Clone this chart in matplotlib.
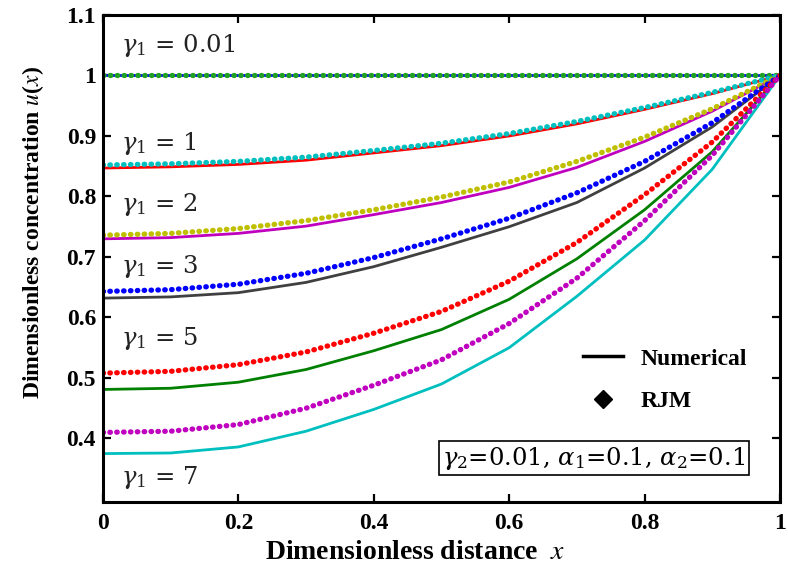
import numpy as np
import matplotlib
matplotlib.use('Agg')
import matplotlib.pyplot as plt
from matplotlib.lines import Line2D

plt.rcParams['font.family'] = ['Liberation Serif', 'DejaVu Serif']
plt.rcParams['mathtext.fontset'] = 'stix'

# x = 0, 0.1, ... 1
x = [0.0, 0.1, 0.2, 0.3, 0.4, 0.5, 0.6, 0.7, 0.8, 0.9, 1.0]

num_g001 = [1.0, 1.0, 1.0, 1.0, 1.0, 1.0, 1.0, 1.0, 1.0, 1.0, 1.0]
rjm_g001 = [1.0, 1.0, 1.0, 1.0, 1.0, 1.0, 1.0, 1.0, 1.0, 1.0, 1.0]
num_g1 = [0.847, 0.849, 0.853, 0.860, 0.872, 0.884, 0.900, 0.920, 0.944, 0.970, 1.0]
rjm_g1 = [0.852, 0.854, 0.858, 0.865, 0.876, 0.888, 0.904, 0.924, 0.947, 0.972, 1.0]
num_g2 = [0.730, 0.732, 0.739, 0.751, 0.770, 0.790, 0.815, 0.848, 0.891, 0.941, 1.0]
rjm_g2 = [0.736, 0.739, 0.747, 0.760, 0.778, 0.799, 0.824, 0.858, 0.898, 0.945, 1.0]
num_g3 = [0.632, 0.634, 0.641, 0.658, 0.684, 0.716, 0.750, 0.790, 0.847, 0.915, 1.0]
rjm_g3 = [0.643, 0.646, 0.655, 0.673, 0.699, 0.730, 0.764, 0.806, 0.858, 0.922, 1.0]
num_g5 = [0.481, 0.483, 0.493, 0.514, 0.545, 0.580, 0.630, 0.697, 0.778, 0.874, 1.0]
rjm_g5 = [0.508, 0.511, 0.522, 0.543, 0.574, 0.610, 0.660, 0.724, 0.803, 0.890, 1.0]
num_g7 = [0.375, 0.376, 0.386, 0.412, 0.448, 0.490, 0.550, 0.635, 0.728, 0.845, 1.0]
rjm_g7 = [0.410, 0.412, 0.423, 0.450, 0.488, 0.530, 0.590, 0.665, 0.760, 0.868, 1.0]

gamma_labels = ['0.01', '1', '2', '3', '5', '7']
label_y = [1.05, 0.888, 0.786, 0.685, 0.566, 0.335]

numerical = [num_g001, num_g1, num_g2, num_g3, num_g5, num_g7]
rjm = [rjm_g001, rjm_g1, rjm_g2, rjm_g3, rjm_g5, rjm_g7]
line_cols = ['b', 'r', 'm', '#404040', 'g', 'c']
dot_cols = ['#22a022', 'c', 'y', 'b', 'r', 'm']

fig = plt.figure(figsize=(7.88, 5.72), dpi=100)
ax = fig.add_axes([0.1307, 0.1224, 0.8591, 0.8514])

for ys, c in zip(numerical, line_cols):
    ax.plot(x, ys, color=c, lw=2.0)
for ys, c in zip(rjm, dot_cols):
    ax.plot(x, ys, color=c, lw=3.8, linestyle=(0, (0.1, 1.2)),
            dash_capstyle='round')

for g, yy in zip(gamma_labels, label_y):
    ax.text(0.026, yy, r'$\gamma_1$ = ' + g, fontsize=17.5, va='center',
            ha='left', color='#222222', family='DejaVu Serif',
            math_fontfamily='dejavuserif')

ax.set_xlim(0, 1)
ax.set_ylim(0.295, 1.1)
ax.set_xticks([0, 0.2, 0.4, 0.6, 0.8, 1])
ax.set_yticks([0.4, 0.5, 0.6, 0.7, 0.8, 0.9, 1.0, 1.1])
fmt = plt.FuncFormatter(lambda v, pos: '%g' % v)
ax.xaxis.set_major_formatter(fmt)
ax.yaxis.set_major_formatter(fmt)
ax.tick_params(direction='in', top=True, right=True, length=6, width=1.6,
               labelsize=17)
ax.tick_params(axis='y', pad=5)
ax.tick_params(axis='x', pad=8)
for lab in ax.get_xticklabels() + ax.get_yticklabels():
    lab.set_fontweight('bold')
for sp in ax.spines.values():
    sp.set_linewidth(2.2)

ax.set_xlabel(r'Dimensionless distance  $\mathit{x}$', fontsize=20,
              fontweight='bold')
ax.xaxis.set_label_coords(0.461, -0.078)
ax.set_ylabel(r'Dimensionless concentration $\mathit{u}$($\mathit{x}$)',
              fontsize=17, fontweight='bold')
ax.yaxis.set_label_coords(-0.084, 0.554)

handles = [Line2D([], [], color='k', lw=2.5),
           Line2D([], [], color='k', marker='D', markersize=9, lw=0)]
leg = ax.legend(handles, ['Numerical', 'RJM'], loc='center',
                bbox_to_anchor=(0.83, 0.25), frameon=False, labelspacing=0.9,
                handlelength=1.7, handletextpad=0.75,
                prop={'weight': 'bold', 'size': 17})

ax.text(0.725, 0.09, r'$\gamma_2$=0.01, $\alpha_1$=0.1, $\alpha_2$=0.1',
        transform=ax.transAxes, fontsize=17.5, ha='center', va='center',
        family='DejaVu Serif', math_fontfamily='dejavuserif',
        bbox=dict(boxstyle='square,pad=0.15', fc='white', ec='k', lw=1.2))

plt.savefig('out.png', dpi=100)
